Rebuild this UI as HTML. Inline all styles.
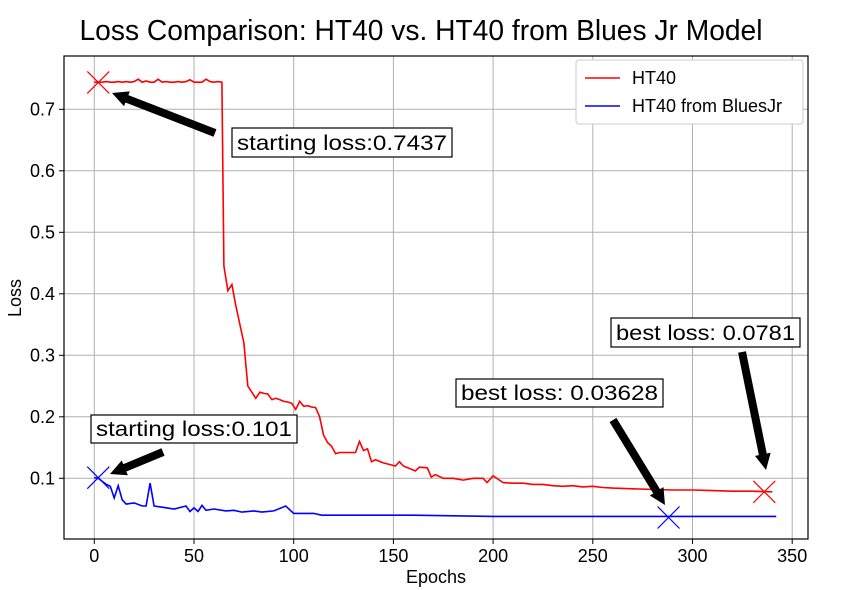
<!DOCTYPE html>
<html><head><meta charset="utf-8"><style>body{margin:0;background:#fff}svg{display:block;font-family:"Liberation Sans","DejaVu Sans",sans-serif}</style></head>
<body>
<svg id="chart" width="851" height="590" viewBox="0 0 851 590">
<text x="421" y="40" text-anchor="middle" font-size="29" textLength="683" lengthAdjust="spacingAndGlyphs">Loss Comparison: HT40 vs. HT40 from Blues Jr Model</text>
<g id="grid"></g>
<g id="series"></g>
<rect x="64" y="56" width="744" height="483" fill="none" stroke="#000" stroke-width="1.2"/>
<g id="ticks"></g>
<text x="436" y="583" text-anchor="middle" font-size="18">Epochs</text>
<text transform="translate(21,298) rotate(-90)" text-anchor="middle" font-size="18">Loss</text>
<g>
<rect x="576" y="60" width="227" height="64" rx="3" fill="#fff" stroke="#ccc"/>
<line x1="585" y1="78" x2="620" y2="78" stroke="red" stroke-width="1.6"/>
<text x="632" y="84" font-size="18">HT40</text>
<line x1="585" y1="106" x2="620" y2="106" stroke="blue" stroke-width="1.6"/>
<text x="632" y="112" font-size="18">HT40 from BluesJr</text>
</g>
<g id="annots"></g>
</svg>
<script>
const redEpochs=[0,4,6,8,10,12,14,16,18,20,22,24,26,28,30,32,34,36,38,40,42,44,46,48,50,52,54,56,58,60,62,64,65,67,69,71,73,75,77,79,81,83,85,87,89,91,93,95,97,99,101,103,105,107,109,111,113,115,117,119,121,123,125,131,133,135,137,139,141,145,151,153,155,161,163,167,169,171,175,180,185,190,195,197,200,205,210,215,220,225,230,235,240,245,250,255,260,270,280,290,300,310,320,330,340];
const redLoss=[0.744,0.744,0.745,0.744,0.744,0.745,0.744,0.745,0.744,0.745,0.749,0.744,0.746,0.744,0.744,0.749,0.744,0.745,0.744,0.744,0.745,0.744,0.745,0.748,0.744,0.744,0.744,0.749,0.745,0.744,0.745,0.744,0.445,0.405,0.415,0.38,0.35,0.32,0.25,0.24,0.23,0.24,0.238,0.237,0.228,0.23,0.228,0.225,0.224,0.222,0.212,0.225,0.217,0.218,0.216,0.215,0.2,0.17,0.158,0.152,0.14,0.142,0.142,0.142,0.16,0.145,0.148,0.127,0.13,0.125,0.12,0.127,0.12,0.112,0.118,0.117,0.102,0.106,0.1,0.1,0.097,0.1,0.1,0.093,0.104,0.093,0.092,0.092,0.09,0.09,0.088,0.087,0.088,0.086,0.087,0.085,0.084,0.083,0.082,0.081,0.081,0.08,0.079,0.079,0.078];
const blueEpochs=[0,2,4,6,8,10,12,14,16,20,24,26,28,30,34,40,46,48,50,52,54,56,60,66,70,74,80,84,90,96,100,104,110,114,130,140,160,180,200,240,280,300,320,342];
const blueLoss=[0.101,0.1,0.095,0.09,0.087,0.068,0.088,0.065,0.058,0.06,0.055,0.055,0.092,0.055,0.053,0.05,0.055,0.046,0.052,0.046,0.056,0.048,0.05,0.047,0.048,0.045,0.047,0.045,0.047,0.055,0.043,0.043,0.043,0.04,0.04,0.04,0.04,0.039,0.038,0.038,0.038,0.038,0.038,0.038];
const xTicks=[0,50,100,150,200,250,300,350];
const yTicks=[0.1,0.2,0.3,0.4,0.5,0.6,0.7];
const markers=[{e:2,v:0.7437,c:"red"},{e:2,v:0.101,c:"blue"},{e:288,v:0.03628,c:"blue"},{e:336,v:0.0781,c:"red"}];
const NS="http://www.w3.org/2000/svg";
const L=64,R=808,T=56,B=539;
const xs=e=>94.3+e*1.994;
const ys=v=>539.8-v*615;
function mk(tag,attrs,parent){const el=document.createElementNS(NS,tag);for(const k in attrs)el.setAttribute(k,attrs[k]);parent.appendChild(el);return el;}
const grid=document.getElementById('grid'),ticks=document.getElementById('ticks'),series=document.getElementById('series'),ann=document.getElementById('annots');
xTicks.forEach(t=>{const x=xs(t);
 const g=mk('line',{x1:x,x2:x,y1:T,y2:B,stroke:'#b0b0b0','stroke-width':1},grid);
 
 
 mk('line',{x1:x,x2:x,y1:B,y2:B+5,stroke:'#000'},ticks);
 const tx=mk('text',{x:x,y:B+23,'text-anchor':'middle','font-size':18},ticks);
 
 
 tx.textContent=t;});
yTicks.forEach(t=>{const y=ys(t);
 const g=mk('line',{x1:L,x2:R,y1:y,y2:y,stroke:'#b0b0b0','stroke-width':1},grid);
 
 
 mk('line',{x1:L-5,x2:L,y1:y,y2:y,stroke:'#000'},ticks);
 const tx=mk('text',{x:L-9,y:y+6,'text-anchor':'end','font-size':18},ticks);
 
 
 tx.textContent=t.toFixed(1);});
function line(ep,vals,col,name){const d=ep.map((e,i)=>(i?'L':'M')+xs(e).toFixed(1)+','+ys(vals[i]).toFixed(1)).join('');
 const p=mk('path',{d:d,fill:'none',stroke:col,'stroke-width':1.6},series);
 
 }
line(redEpochs,redLoss,'red','ht40-line');
line(blueEpochs,blueLoss,'blue','ht40-bluesjr-line');
markers.forEach(m=>{const x=xs(m.e),y=ys(m.v),s=11;
 const p=mk('path',{d:`M${x-s},${y-s}L${x+s},${y+s}M${x-s},${y+s}L${x+s},${y-s}`,stroke:m.c,'stroke-width':1.2,fill:'none'},series);
 
 });
function arrow(x1,y1,x2,y2){const dx=x2-x1,dy=y2-y1,len=Math.hypot(dx,dy),ux=dx/len,uy=dy/len,px=-uy,py=ux;
 const hl=16,hw=8,sw=4;const bx=x2-ux*hl,by=y2-uy*hl;
 const pts=[[x1+px*sw,y1+py*sw],[bx+px*sw,by+py*sw],[bx+px*hw,by+py*hw],[x2,y2],[bx-px*hw,by-py*hw],[bx-px*sw,by-py*sw],[x1-px*sw,y1-py*sw]];
 const p=mk('polygon',{points:pts.map(q=>q.join(',')).join(' '),fill:'#000'},ann);
 
 }
function box(x,y,w,h,txt){const r=mk('rect',{x:x,y:y,width:w,height:h,fill:'#fff',stroke:'#000','stroke-width':1.2},ann);
 
 
 const t=mk('text',{x:x+5,y:y+h-7,'font-size':21,textLength:w-10,lengthAdjust:'spacingAndGlyphs'},ann);
 
 
 t.textContent=txt;}
arrow(215,133,112,93);
arrow(163,452,110,474);
arrow(613,420,665,505);
arrow(742,352,766,470);
box(232,128,220,29,'starting loss:0.7437');
box(91,415,206,28,'starting loss:0.101');
box(456,379,207,28,'best loss: 0.03628');
box(611,318,189,29,'best loss: 0.0781');
</script>
</body></html>
